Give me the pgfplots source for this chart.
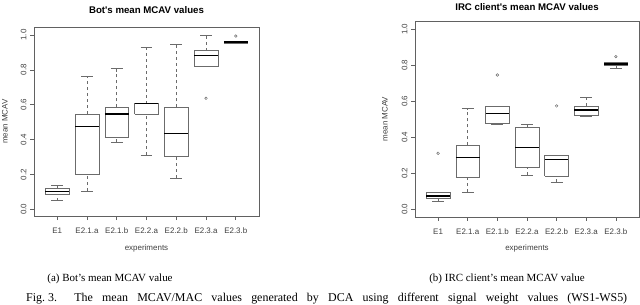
\documentclass[border=0pt]{standalone}
\usepackage{fontspec}
\setmainfont{Liberation Serif}
\newfontfamily\arial{Liberation Sans}
\usepackage{pgfplots}
\pgfplotsset{compat=1.18}
\definecolor{framegray}{gray}{0.38}
\definecolor{boxgray}{gray}{0.42}
\definecolor{txtgray}{gray}{0.25}
\pgfplotsset{
  rstyle/.style={
    scale only axis,
    xmin=0.22, xmax=7.78,
    xtick={1,2,3,4,5,6,7},
    xticklabels={E1,E2.1.a,E2.1.b,E2.2.a,E2.2.b,E2.3.a,E2.3.b},
    ytick={0,0.2,0.4,0.6,0.8,1},
    /pgf/number format/assume math mode=true,
    yticklabel style={/pgf/number format/fixed,/pgf/number format/fixed zerofill,/pgf/number format/precision=1, rotate=90, anchor=south},
    tick align=outside, tick pos=left, major tick length=4bp,
    axis line style={draw=framegray, line width=0.7pt},
    every tick/.style={draw=framegray, line width=0.6pt},
    ticklabel style={font=\arial\fontsize{8}{9}\selectfont, text=txtgray},
    xticklabel style={yshift=-4bp},
    label style={font=\arial\fontsize{8}{9}\selectfont, text=txtgray},
    title style={font=\arial\bfseries\fontsize{9.7}{11}\selectfont, anchor=center, yshift=-6pt},
    xlabel=experiments, ylabel=mean MCAV,
    unbounded coords=jump,
  },
}
\begin{document}
\begin{tikzpicture}
\useasboundingbox (0,0) rectangle (640bp,305bp);
% left: Bot
\begin{axis}[rstyle, at={(34bp,89bp)}, anchor=south west, width=225bp, height=189bp,
  ymin=-0.038, ymax=1.046,
  title={Bot's mean MCAV values}, title style={at={(axis description cs:0.5,1.09)}},
  xlabel style={at={(axis description cs:0.5,-0.169)}, anchor=center},
  ylabel style={at={(axis description cs:-0.129,0.5)}, anchor=center}]
% boxes (lower to upper quartile)
\addplot[boxgray, line width=0.6pt] coordinates {
(0.6,0.088)(1.4,0.088)(1.4,0.119)(0.6,0.119)(0.6,0.088)(1,nan)
(1.6,0.199)(2.4,0.199)(2.4,0.547)(1.6,0.547)(1.6,0.199)(2,nan)
(2.6,0.415)(3.4,0.415)(3.4,0.585)(2.6,0.585)(2.6,0.415)(3,nan)
(3.6,0.547)(4.4,0.547)(4.4,0.606)(3.6,0.606)(3.6,0.547)(4,nan)
(4.6,0.302)(5.4,0.302)(5.4,0.585)(4.6,0.585)(4.6,0.302)(5,nan)
(5.6,0.822)(6.4,0.822)(6.4,0.910)(5.6,0.910)(5.6,0.822)(6,nan)
(6.6,0.955)(7.4,0.955)(7.4,0.962)(6.6,0.962)(6.6,0.955)};
% whiskers
\addplot[boxgray, line width=0.5pt, dashed] coordinates {
(1,0.050)(1,0.088)(1,nan)(1,0.119)(1,0.136)(1,nan)
(2,0.105)(2,0.199)(2,nan)(2,0.547)(2,0.761)(2,nan)
(3,0.384)(3,0.415)(3,nan)(3,0.585)(3,0.807)(3,nan)
(4,0.310)(4,0.547)(4,nan)(4,0.606)(4,0.929)(4,nan)
(5,0.180)(5,0.302)(5,nan)(5,0.585)(5,0.946)(5,nan)
(6,0.910)(6,1.000)(6,nan)
(7,0.952)(7,0.955)};
% whisker caps
\addplot[boxgray, line width=0.5pt] coordinates {
(0.8,0.050)(1.2,0.050)(1,nan)(0.8,0.136)(1.2,0.136)(1,nan)
(1.8,0.105)(2.2,0.105)(2,nan)(1.8,0.761)(2.2,0.761)(2,nan)
(2.8,0.384)(3.2,0.384)(3,nan)(2.8,0.807)(3.2,0.807)(3,nan)
(3.8,0.310)(4.2,0.310)(4,nan)(3.8,0.929)(4.2,0.929)(4,nan)
(4.8,0.180)(5.2,0.180)(5,nan)(4.8,0.946)(5.2,0.946)(5,nan)
(5.8,1.000)(6.2,1.000)(6,nan)
(6.8,0.952)(7.2,0.952)};
% medians
\addplot[black, line width=1.4pt] coordinates {
(0.6,0.101)(1.4,0.101)(1,nan)(1.6,0.474)(2.4,0.474)(2,nan)
(2.6,0.547)(3.4,0.547)(3,nan)(3.6,0.606)(4.4,0.606)(4,nan)
(4.6,0.436)(5.4,0.436)(5,nan)(5.6,0.881)(6.4,0.881)(6,nan)
(6.6,0.960)(7.4,0.960)};
\addplot[only marks, mark=o, mark size=1.3bp, boxgray, line width=0.5pt] coordinates {(6,0.637) (7,0.994)};
\end{axis}
% right: IRC client
\begin{axis}[rstyle, at={(415bp,88bp)}, anchor=south west, width=224bp, height=196bp,
  ymin=-0.043, ymax=1.046,
  title={IRC client's mean MCAV values}, title style={at={(axis description cs:0.5,1.07)}},
  xlabel style={at={(axis description cs:0.5,-0.158)}, anchor=center},
  ylabel style={at={(axis description cs:-0.134,0.5)}, anchor=center}]
% boxes (lower to upper quartile)
\addplot[boxgray, line width=0.6pt] coordinates {
(0.6,0.063)(1.4,0.063)(1.4,0.094)(0.6,0.094)(0.6,0.063)(1,nan)
(1.6,0.180)(2.4,0.180)(2.4,0.356)(1.6,0.356)(1.6,0.180)(2,nan)
(2.6,0.476)(3.4,0.476)(3.4,0.574)(2.6,0.574)(2.6,0.476)(3,nan)
(3.6,0.233)(4.4,0.233)(4.4,0.454)(3.6,0.454)(3.6,0.233)(4,nan)
(4.6,0.183)(5.4,0.183)(5.4,0.300)(4.6,0.300)(4.6,0.183)(5,nan)
(5.6,0.522)(6.4,0.522)(6.4,0.574)(5.6,0.574)(5.6,0.522)(6,nan)
(6.6,0.798)(7.4,0.798)(7.4,0.819)(6.6,0.819)(6.6,0.798)};
% whiskers
\addplot[boxgray, line width=0.5pt, dashed] coordinates {
(1,0.043)(1,0.063)(1,nan)
(2,0.096)(2,0.180)(2,nan)(2,0.356)(2,0.559)(2,nan)
(3,0.470)(3,0.476)(3,nan)
(4,0.191)(4,0.233)(4,nan)(4,0.454)(4,0.474)(4,nan)
(5,0.152)(5,0.183)(5,nan)
(6,0.515)(6,0.522)(6,nan)(6,0.574)(6,0.622)(6,nan)
(7,0.783)(7,0.798)};
% whisker caps
\addplot[boxgray, line width=0.5pt] coordinates {
(0.8,0.043)(1.2,0.043)(1,nan)(0.8,0.094)(1.2,0.094)(1,nan)
(1.8,0.096)(2.2,0.096)(2,nan)(1.8,0.559)(2.2,0.559)(2,nan)
(2.8,0.470)(3.2,0.470)(3,nan)(2.8,0.574)(3.2,0.574)(3,nan)
(3.8,0.191)(4.2,0.191)(4,nan)(3.8,0.474)(4.2,0.474)(4,nan)
(4.8,0.152)(5.2,0.152)(5,nan)(4.8,0.300)(5.2,0.300)(5,nan)
(5.8,0.515)(6.2,0.515)(6,nan)(5.8,0.622)(6.2,0.622)(6,nan)
(6.8,0.783)(7.2,0.783)(7,nan)(6.8,0.819)(7.2,0.819)};
% medians
\addplot[black, line width=1.4pt] coordinates {
(0.6,0.074)(1.4,0.074)(1,nan)(1.6,0.289)(2.4,0.289)(2,nan)
(2.6,0.531)(3.4,0.531)(3,nan)(3.6,0.344)(4.4,0.344)(4,nan)
(4.6,0.278)(5.4,0.278)(5,nan)(5.6,0.552)(6.4,0.552)(6,nan)
(6.6,0.807)(7.4,0.807)};
\addplot[only marks, mark=o, mark size=1.3bp, boxgray, line width=0.5pt] coordinates {(1,0.311) (3,0.746) (5,0.574) (7,0.848)};
\end{axis}
\node[font=\fontsize{11}{13}\selectfont] at (110bp,26bp) {(a) Bot's mean MCAV value};
\node[font=\fontsize{11}{13}\selectfont] at (507bp,26bp) {(b) IRC client's mean MCAV value};
\node[font=\fontsize{12}{14}\selectfont, anchor=base west, inner sep=0pt] at (26bp,3.6bp) {\makebox[601bp][s]{\mbox{Fig.~3.}\hspace{8bp} The mean MCAV/MAC values generated by DCA using different signal weight values (WS1-WS5)}};
\end{tikzpicture}
\end{document}
